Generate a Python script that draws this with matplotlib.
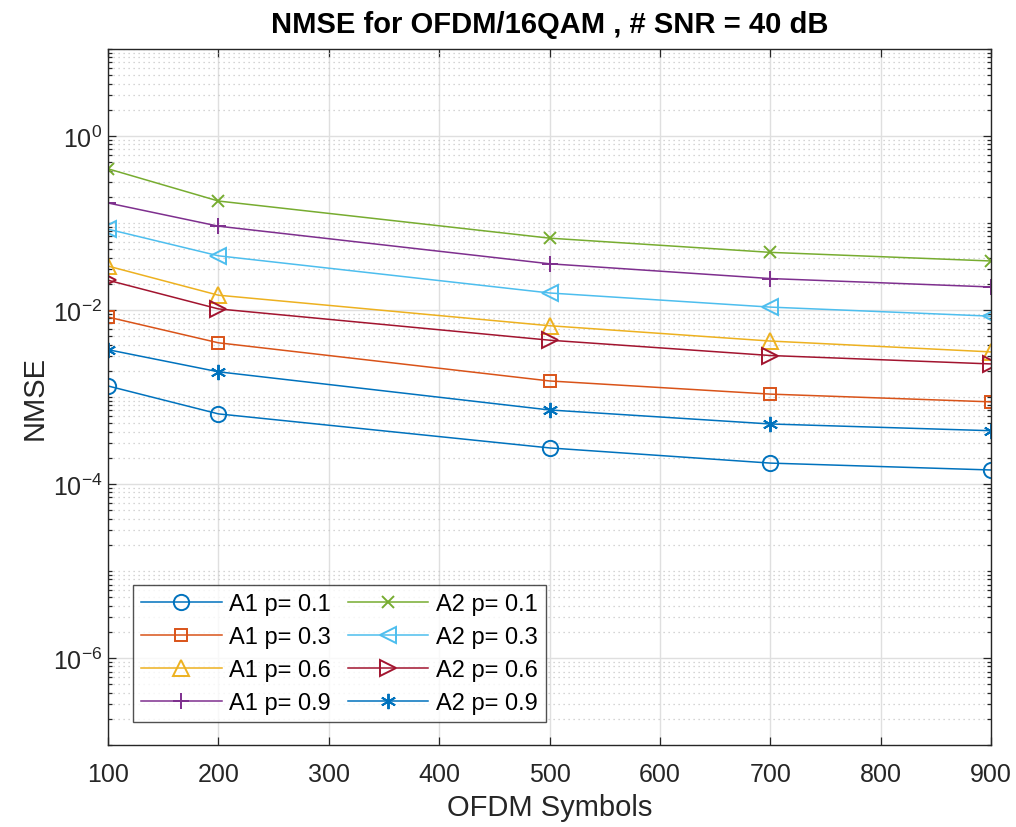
import matplotlib
matplotlib.use("Agg")
import matplotlib.pyplot as plt
from matplotlib.ticker import LogLocator, NullFormatter, FixedLocator, FuncFormatter
import numpy as np

plt.rcParams['font.family'] = ['Liberation Sans', 'DejaVu Sans']
plt.rcParams['mathtext.fontset'] = 'custom'
plt.rcParams['mathtext.rm'] = 'Liberation Sans'
plt.rcParams['axes.unicode_minus'] = False

x = [100, 200, 500, 700, 900]

a1_p01 = [0.00134, 0.00064, 0.00026, 0.000174, 0.000145]
a1_p03 = [0.0083, 0.0042, 0.00153, 0.00108, 0.00088]
a1_p06 = [0.032, 0.0148, 0.0066, 0.0044, 0.0033]
a1_p09 = [0.17, 0.092, 0.034, 0.023, 0.0184]
a2_p01 = [0.42, 0.179, 0.067, 0.046, 0.0366]
a2_p03 = [0.085, 0.042, 0.0157, 0.0108, 0.0085]
a2_p06 = [0.022, 0.0103, 0.0045, 0.0030, 0.0024]
a2_p09 = [0.0035, 0.00195, 0.00071, 0.00049, 0.00041]

labels = ['A1 p= 0.1', 'A1 p= 0.3', 'A1 p= 0.6', 'A1 p= 0.9',
          'A2 p= 0.1', 'A2 p= 0.3', 'A2 p= 0.6', 'A2 p= 0.9']
series = [a1_p01, a1_p03, a1_p06, a1_p09, a2_p01, a2_p03, a2_p06, a2_p09]
colors = ['#0072BD', '#D95319', '#EDB120', '#7E2F8E',
          '#77AC30', '#4DBEEE', '#A2142F', '#0072BD']
markers = ['o', 's', '^', '+', 'x', '<', '>', (6, 2, 0)]
msizes = [11, 9, 12, 12, 9, 12, 12, 11]

fig = plt.figure(figsize=(10.16, 8.28), dpi=100)
ax = fig.add_axes([0.1063, 0.099, 0.8691, 0.8406])

for y, lab, c, m, ms in zip(series, labels, colors, markers, msizes):
    ax.plot(x, y, color=c, marker=m, markersize=ms, markerfacecolor='none',
            markeredgecolor=c, markeredgewidth=1.4, linewidth=1.1, label=lab)

ax.set_yscale('log')
ax.set_xlim(100, 900)
ax.set_ylim(1e-7, 1e1)
ax.set_xticks([100, 200, 300, 400, 500, 600, 700, 800, 900])
ax.yaxis.set_major_locator(FixedLocator([1e-6, 1e-4, 1e-2, 1e0]))
ax.yaxis.set_major_formatter(FuncFormatter(
    lambda v, p: r'$\mathregular{10^{%d}}$' % int(round(np.log10(v)))))
ax.yaxis.set_minor_locator(LogLocator(base=10, subs=[1, 2, 3, 4, 5, 6, 7, 8, 9], numticks=20))
ax.yaxis.set_minor_formatter(NullFormatter())

ax.grid(True, which='major', color='#DFDFDF', linewidth=1.0, linestyle='-')
ax.grid(True, which='minor', axis='y', color='#C8C8C8', linewidth=0.9, linestyle=(0, (1, 3)))
ax.set_axisbelow(True)

ax.tick_params(which='both', direction='in', top=True, right=True, labelsize=18, colors='#262626')
ax.tick_params(axis='x', which='major', pad=12)
ax.tick_params(axis='y', which='major', pad=4)
ax.tick_params(which='major', length=6, width=0.9)
ax.tick_params(which='minor', length=3, width=0.9)
for sp in ax.spines.values():
    sp.set_color('#262626')
    sp.set_linewidth(1.0)

ax.set_xlabel('OFDM Symbols', fontsize=21, color='#262626', labelpad=5)
ax.set_ylabel('NMSE', fontsize=21, color='#262626', labelpad=3)
ax.set_title('NMSE for OFDM/16QAM , # SNR = 40 dB', fontsize=21, fontweight='bold', pad=12)

leg = ax.legend(ncol=2, loc='lower left', bbox_to_anchor=(0.0283, 0.033), borderaxespad=0,
                fontsize=17, frameon=True, fancybox=False, edgecolor='#262626',
                handlelength=3.4, columnspacing=0.75, handletextpad=0.3,
                borderpad=0.35, labelspacing=0.46)
leg.get_frame().set_linewidth(1.0)

fig.savefig('out.png', dpi=100)
